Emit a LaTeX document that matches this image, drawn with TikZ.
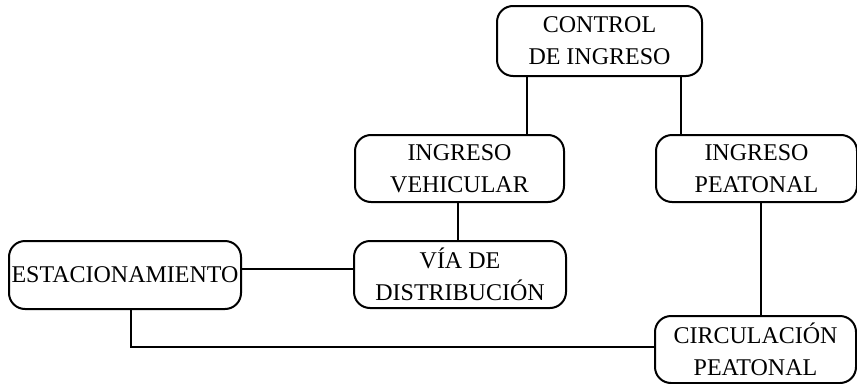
\documentclass[tikz,border=0pt]{standalone}
\usepackage{fontspec}
\setmainfont{Liberation Serif}
\begin{document}
\begin{tikzpicture}[x=1pt,y=-1pt,
  box/.style={draw, line width=2pt, rounded corners=16pt, align=center, inner sep=0pt,
    font=\fontsize{24}{32}\selectfont},
  conn/.style={line width=2pt}]
\useasboundingbox (0,0) rectangle (857,383);
\node[box, minimum width=205pt, minimum height=70pt] (ctrl) at (599.5,41) {CONTROL\\DE INGRESO};
\node[box, minimum width=209pt, minimum height=67pt] (veh) at (459.5,168.5) {INGRESO\\VEHICULAR};
\node[box, minimum width=201pt, minimum height=67pt] (pea) at (756.5,168.5) {INGRESO\\PEATONAL};
\node[box, minimum width=212pt, minimum height=67pt] (via) at (460,274.5) {VÍA DE\\DISTRIBUCIÓN};
\node[box, minimum width=232pt, minimum height=68pt] (est) at (125,275) {ESTACIONAMIENTO};
\node[box, minimum width=201pt, minimum height=67pt] (circ) at (755.5,349.5) {CIRCULACIÓN\\PEATONAL};
\coordinate (c1) at ([xshift=-72.5pt]ctrl.south);
\coordinate (c2) at ([xshift=81.5pt]ctrl.south);
\coordinate (c3) at ([xshift=-1.5pt]veh.south);
\coordinate (c4) at ([xshift=4.5pt]pea.south);
\coordinate (c5) at ([xshift=6pt]est.south);
\draw[conn] (c1) -- (c1 |- veh.north);
\draw[conn] (c2) -- (c2 |- pea.north);
\draw[conn] (c3) -- (c3 |- via.north);
\draw[conn] (c4) -- (c4 |- circ.north);
\draw[conn] ([yshift=6pt]est.east) -- ([yshift=6pt]est.east -| via.west);
\draw[conn] (c5) |- ([yshift=3pt]circ.west);
\end{tikzpicture}
\end{document}
